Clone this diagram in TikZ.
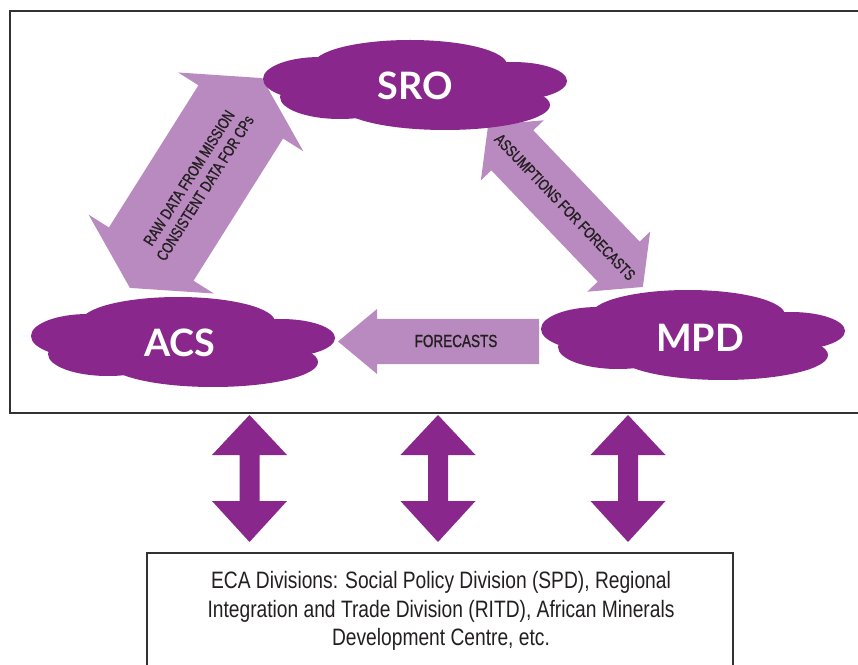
\documentclass[tikz,border=0pt]{standalone}
\usepackage{fontspec}
\usepackage{tikz}
\usetikzlibrary{positioning}
\newfontfamily\cloudfont{Lato}
\newfontfamily\condfont{Liberation Sans}[FakeStretch=0.81]
\newfontfamily\condheavy{Liberation Sans}[FakeStretch=0.77, FakeBold=1.2]
\definecolor{ecapurple}{RGB}{137,39,140}
\definecolor{ecalilac}{RGB}{185,138,191}
\definecolor{framegray}{RGB}{50,50,50}
\definecolor{inkdark}{RGB}{35,31,32}

\tikzset{
  cloudlabel/.style={text=white, inner sep=0pt, font=\cloudfont\bfseries\fontsize{21.5}{25}\selectfont},
  arrowlabel/.style={text=inkdark, inner sep=0pt, align=center, font=\condheavy\fontsize{9}{10.8}\selectfont},
  bottomtext/.style={text=inkdark, inner sep=0pt, align=center, font=\condfont\fontsize{13.5}{16.4}\selectfont},
  frameline/.style={draw=framegray, line width=1.1pt},
  cloudblob/.pic={
    \fill[ecapurple] (0,0) ellipse (120 and 35);
    \fill[ecapurple] (-95,-6) ellipse (57 and 22);
    \fill[ecapurple] (-5,-20) ellipse (97 and 25);
    \fill[ecapurple] (98,-4) ellipse (54 and 19);
    \fill[ecapurple] (-75,12) ellipse (60 and 22);
    \fill[ecapurple] (30,20) ellipse (105 and 25);
  }
}

\begin{document}
\begin{tikzpicture}[x=0.02cm, y=-0.02cm]
\useasboundingbox (0,0) rectangle (858,665);
\clip (0,0) rectangle (858,665);

% frames
\draw[frameline] (10,11) rectangle (880,413);
\draw[frameline, line width=0.9pt] (147,553) rectangle (733,700);

% block arrows between the offices
\begin{scope}[shift={(196,183)}, rotate=57.8]
  \fill[ecalilac] (-124,0) -- (-84,74) -- (-84,50) -- (84,50) -- (84,74) -- (124,0)
    -- (84,-74) -- (84,-50) -- (-84,-50) -- (-84,-74) -- cycle;
\end{scope}
\begin{scope}[shift={(565.5,206)}, rotate=-46.3]
  \fill[ecalilac] (-112,0) -- (-77,43.5) -- (-77,29) -- (77,29) -- (77,43.5) -- (112,0)
    -- (77,-43.5) -- (77,-29) -- (-77,-29) -- (-77,-43.5) -- cycle;
\end{scope}
\fill[ecalilac] (539,319) -- (377,319) -- (377,309) -- (338,341.5) -- (377,374)
  -- (377,364) -- (539,364) -- cycle;

% clouds
\pic at (415,85) {cloudblob};
\pic at (183,342) {cloudblob};
\pic at (693,335) {cloudblob};

\node[cloudlabel] (sro) at (415,86) {SRO};
\node[cloudlabel] (acs) at (180,343) {ACS};
\node[cloudlabel] (mpd) at (700,338) {MPD};

% arrow texts
\node[arrowlabel, rotate=57.8] (rawdata) at (197,183) {RAW DATA FROM MISSION\\CONSISTENT DATA FOR CPs};
\node[arrowlabel, rotate=-46.3] (assumptions) at (565,207) {ASSUMPTIONS FOR FORECASTS};
\node[arrowlabel, font=\condheavy\fontsize{10}{12}\selectfont] (forecasts) at (456,341) {FORECASTS};

% links to the divisions
\foreach \x in {249.5,438,628} {
  \fill[ecapurple] (\x,415) -- ({\x+37.5},455) -- ({\x+10},455) -- ({\x+10},501)
    -- ({\x+37.5},501) -- (\x,542) -- ({\x-37.5},501) -- ({\x-10},501)
    -- ({\x-10},455) -- ({\x-37.5},455) -- cycle;
}

\node[bottomtext] (divisions) at (441,611) {ECA Divisions: Social Policy Division (SPD), Regional\\
  Integration and Trade Division (RITD), African Minerals\\
  Development Centre, etc.};
\end{tikzpicture}
\end{document}
